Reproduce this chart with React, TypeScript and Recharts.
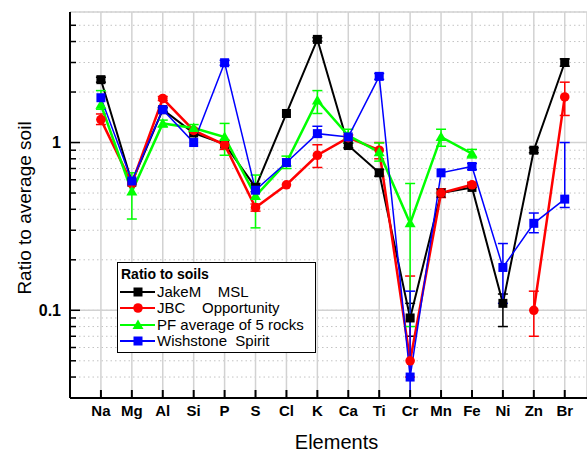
import React from "react";
import { LineChart, Line, XAxis, YAxis, CartesianGrid, ErrorBar, Legend } from "recharts";

const elements = ["Na", "Mg", "Al", "Si", "P", "S", "Cl", "K", "Ca", "Ti", "Cr", "Mn", "Fe", "Ni", "Zn", "Br"];

const jakeMsl = [2.37, 0.58, 1.57, 1.14, 0.98, 0.54, 1.49, 4.12, 0.96, 0.66, 0.09, 0.5, 0.54, 0.11, 0.9, 3.0];
const jbcOpportunity = [1.37, 0.57, 1.83, 1.18, 0.97, 0.41, 0.56, 0.84, 1.07, 0.9, 0.05, 0.5, 0.56, null, 0.1, 1.87];
const pfRocks = [1.68, 0.51, 1.3, 1.22, 1.08, 0.48, 0.76, 1.78, 1.1, 0.875, 0.33, 1.08, 0.86, null, null, null];
const wishstone = [1.85, 0.59, 1.57, 1.0, 2.99, 0.52, 0.76, 1.13, 1.08, 2.48, 0.04, 0.66, 0.72, 0.18, 0.33, 0.46];

// [minus, plus]
const jakeErr = [[0.08, 0.08], null, [0.05, 0.05], null, null, [0.03, 0.03], null, [0.1, 0.1], [0.03, 0.03], [0.03, 0.03], [0.02, 0.02], null, null, [0.03, 0.015], [0.03, 0.03], [0.15, 0.15]];
const jbcErr = [[0.09, 0.11], null, [0.05, 0.05], [0.03, 0.03], [0.06, 0.06], [0.02, 0.02], null, [0.13, 0.13], [0.04, 0.04], [0.1, 0.1], [0.01, 0.11], [0.03, 0.03], [0.02, 0.02], null, [0.03, 0.03], [0.42, 0.42]];
const pfErr = [[0.1, 0.36], [0.16, 0.15], [0.06, 0.06], [0.06, 0.06], [0.24, 0.22], [0.17, 0.16], [0.06, 0.07], [0.29, 0.26], [0.1, 0.1], [0.1, 0.12], [0.25, 0.24], [0.13, 0.12], [0.05, 0.05], null, null, null];
const wishErr = [null, null, [0.04, 0.04], null, [0.1, 0.1], null, null, [0.05, 0.12], null, [0.1, 0.1], [0.01, 0.09], null, [0.03, 0.03], [0.07, 0.07], [0.04, 0.05], [0.05, 0.54]];

const yTicks = [0.04, 0.05, 0.06, 0.07, 0.08, 0.09, 0.1, 0.2, 0.3, 0.4, 0.5, 0.6, 0.7, 0.8, 0.9, 1, 2, 3, 4, 5];
const yLabels = [0.1, 1];
const xTicks = elements.map((_, i) => i + 1);

const data = elements.map((name, i) => ({
    x: i + 1,
    name,
    jake: jakeMsl[i],
    jakeErr: jakeErr[i],
    jbc: jbcOpportunity[i],
    jbcErr: jbcErr[i],
    pf: pfRocks[i],
    pfErr: pfErr[i],
    wish: wishstone[i],
    wishErr: wishErr[i],
}));

const FONT = "'Liberation Sans', Arial, sans-serif";

const series = [
    { key: "jake", label: "JakeM    MSL", color: "#000000", shape: "square", width: 2 },
    { key: "jbc", label: "JBC    Opportunity", color: "#ff0000", shape: "circle", width: 2.5 },
    { key: "pf", label: "PF average of 5 rocks", color: "#00ff00", shape: "triangle", width: 2.5 },
    { key: "wish", label: "Wishstone  Spirit", color: "#0000ff", shape: "square", width: 1.5 },
];

function marker(shape: string, cx: number, cy: number, color: string, key?: any) {
    if (shape === "circle") return <circle key={key} cx={cx} cy={cy} r={4.8} fill={color} />;
    if (shape === "triangle")
        return <polygon key={key} points={`${cx},${cy - 5.5} ${cx + 5.5},${cy + 4} ${cx - 5.5},${cy + 4}`} fill={color} />;
    return <rect key={key} x={cx - 4.5} y={cy - 4.5} width={9} height={9} fill={color} />;
}

const makeDot = (shape: string, color: string) => (p: any) => {
    if (p.cy == null || p.value == null || isNaN(p.cy)) return <g key={p.index} />;
    return marker(shape, p.cx, p.cy, color, p.index);
};

const BottomTick = (props: any) => {
    const { x, y, payload } = props;
    return (
        <g>
            <line x1={x} y1={y} x2={x} y2={y - 8} stroke="#000" strokeWidth={2} />
            <text x={x} y={y + 18} textAnchor="middle" fontFamily={FONT} fontWeight="bold" fontSize={15} fill="#000">
                {elements[payload.value - 1]}
            </text>
        </g>
    );
};

const TopTick = (props: any) => {
    const { x, y } = props;
    return <line x1={x} y1={y} x2={x} y2={y + 8} stroke="#000" strokeWidth={2} />;
};

const LeftTick = (props: any) => {
    const { x, y, payload } = props;
    const major = yLabels.includes(payload.value);
    return (
        <g>
            <line x1={x} y1={y} x2={x + (major ? 10 : 6)} y2={y} stroke="#000" strokeWidth={1.5} />
            {major && (
                <text x={x - 9} y={y} dy="0.35em" textAnchor="end" fontFamily={FONT} fontWeight="bold" fontSize={16} fill="#000">
                    {payload.value}
                </text>
            )}
        </g>
    );
};

const YTitle = (props: any) => {
    const { viewBox } = props;
    const cy = viewBox.y + viewBox.height / 2 + 3;
    return (
        <text x={31} y={cy} transform={`rotate(-90, 31, ${cy})`} textAnchor="middle" fontFamily={FONT} fontSize={19} fill="#000">
            Ratio to average soil
        </text>
    );
};

const XTitle = (props: any) => {
    const { viewBox } = props;
    return (
        <text x={viewBox.x + viewBox.width / 2 + 8} y={449} textAnchor="middle" fontFamily={FONT} fontSize={20} fill="#000">
            Elements
        </text>
    );
};

const LegendBox = () => (
    <div style={{ width: 197, height: 89, border: "1px solid #000", background: "#fff", fontFamily: FONT, position: "relative" }}>
        <div style={{ position: "absolute", left: 3, top: 3, fontWeight: "bold", fontSize: 14, lineHeight: "16px" }}>Ratio to soils</div>
        {series.map((s, i) => (
            <div key={s.key} style={{ position: "absolute", left: 1, top: 21 + i * 16.3, height: 16, display: "flex", alignItems: "center" }}>
                <svg width={38} height={16}>
                    <line x1={1} y1={8} x2={36} y2={8} stroke={s.color} strokeWidth={2} />
                    {marker(s.shape, 19, 8, s.color)}
                </svg>
                <span style={{ fontSize: 15, whiteSpace: "pre", lineHeight: "16px" }}>{s.label}</span>
            </div>
        ))}
    </div>
);

export default function App() {
    return (
        <div style={{ position: "absolute", left: 0, top: 0, background: "#fff" }}>
            <LineChart width={587} height={453} data={data} margin={{ top: 12, right: 0, bottom: 0, left: 0 }}>
                <CartesianGrid yAxisId="main" vertical={false} stroke="#c4c4c4" strokeDasharray="1.5 3" />
                <CartesianGrid yAxisId="major" horizontal vertical stroke="#d2d2d2" strokeWidth={1.5} />
                <XAxis
                    type="number"
                    dataKey="x"
                    domain={[0, 16.72]}
                    ticks={xTicks}
                    interval={0}
                    height={55}
                    tickSize={0}
                    tickMargin={0}
                    tickLine={false}
                    tick={<BottomTick />}
                    axisLine={{ stroke: "#000", strokeWidth: 2 }}
                    allowDataOverflow
                    label={<XTitle />}
                />
                <XAxis
                    xAxisId="top"
                    orientation="top"
                    type="number"
                    dataKey="x"
                    domain={[0, 16.72]}
                    ticks={xTicks}
                    interval={0}
                    height={0}
                    tickSize={0}
                    tickMargin={0}
                    tickLine={false}
                    tick={<TopTick />}
                    axisLine={{ stroke: "#000", strokeWidth: 2 }}
                    allowDataOverflow
                />
                <YAxis
                    yAxisId="main"
                    type="number"
                    scale="log"
                    domain={[0.03, 6]}
                    ticks={yTicks}
                    interval={0}
                    width={70}
                    tickSize={0}
                    tickMargin={0}
                    tickLine={false}
                    tick={<LeftTick />}
                    axisLine={{ stroke: "#000", strokeWidth: 2 }}
                    allowDataOverflow
                    label={<YTitle />}
                />
                <YAxis yAxisId="major" type="number" scale="log" domain={[0.03, 6]} ticks={yLabels} hide allowDataOverflow />
                <Legend
                    layout="horizontal"
                    verticalAlign="middle"
                    align="center"
                    content={<LegendBox />}
                    wrapperStyle={{ left: 117, top: 262, width: 199, height: 91 }}
                />
                {series.map((s) => (
                    <Line
                        key={s.key}
                        yAxisId="main"
                        dataKey={s.key}
                        stroke={s.color}
                        strokeWidth={s.width}
                        dot={makeDot(s.shape, s.color)}
                        activeDot={false}
                        isAnimationActive={false}
                        connectNulls={false}
                    >
                        <ErrorBar dataKey={`${s.key}Err`} direction="y" width={5} stroke={s.color} strokeWidth={1.5} isAnimationActive={false} />
                    </Line>
                ))}
            </LineChart>
        </div>
    );
}
